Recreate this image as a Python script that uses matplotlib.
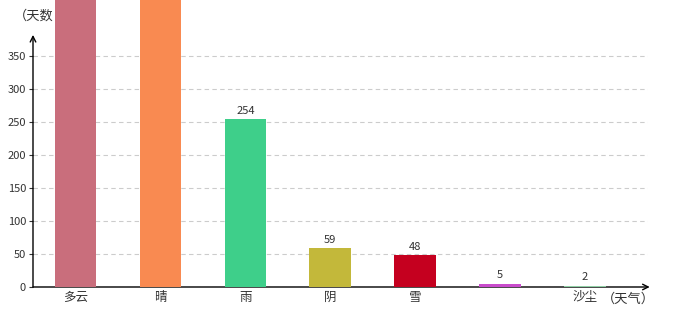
import matplotlib
matplotlib.use("Agg")
import matplotlib.pyplot as plt

plt.rcParams['font.family'] = ['Noto Sans CJK SC', 'DejaVu Sans']

# weather type -> number of days
categories = ["多云", "晴", "雨", "阴", "雪", "", "沙尘"]
days = [560, 520, 254, 59, 48, 5, 2]
colors = ["#c96e7c", "#f98a51", "#3ecf8a", "#c3b83a", "#c5001f", "#c94ccc", "#8fcfa4"]
yticks = [0, 50, 100, 150, 200, 250, 300, 350]

fig = plt.figure(figsize=(6.8, 3.2), dpi=100)
ax = fig.add_axes([33 / 680, 33 / 320, 615 / 680, 287 / 320])
ax.patch.set_visible(False)

ymax = 287 / 0.66
x = list(range(len(categories)))
ax.bar(x, days, width=0.49, color=colors, zorder=6)
for xi, v in zip(x, days):
    if v < ymax:
        ax.text(xi, v + 5, str(v), ha="center", va="bottom", fontsize=8, color="#333333", zorder=7)

ax.set_xlim(-0.5, 6.74)
ax.set_ylim(0, ymax)
ax.set_yticks(yticks)
ax.set_xticks(x)
ax.set_xticklabels(categories)
ax.tick_params(axis="y", length=3, labelsize=8, colors="#333333", pad=2)
ax.tick_params(axis="x", length=0, labelsize=9, colors="#333333", pad=3)
ax.yaxis.grid(True, linestyle=(0, (4, 3)), color="#cccccc", linewidth=0.8, zorder=0)

for s in ax.spines.values():
    s.set_visible(False)

# axes with arrows (under the bars so the tiny ones stay visible)
ax.annotate("", xy=(6.76, 0), xytext=(-0.5, 0),
            arrowprops=dict(arrowstyle="->", color="black", lw=1.0, shrinkA=0, shrinkB=0),
            annotation_clip=False, zorder=5)
ax.annotate("", xy=(-0.5, 382), xytext=(-0.5, 0),
            arrowprops=dict(arrowstyle="->", color="black", lw=1.0, shrinkA=0, shrinkB=0),
            annotation_clip=False, zorder=5)

# axis titles (the y title runs into the first bar)
fig.text(14 / 680, 1 - 16 / 320, "（天数", ha="left", va="center", fontsize=9.5,
         color="#333333", zorder=-1)
fig.text(628 / 680, 1 - 299 / 320, "（天气）", ha="center", va="center", fontsize=9.5,
         color="#333333")

fig.savefig("out.png", dpi=100)
